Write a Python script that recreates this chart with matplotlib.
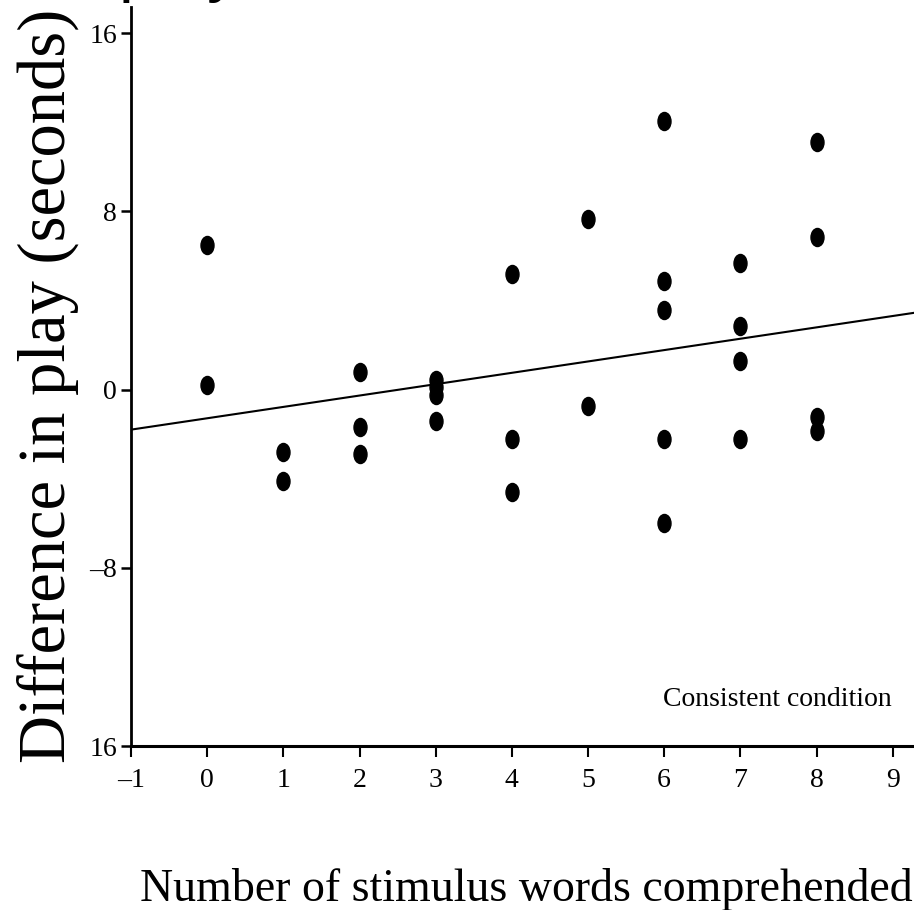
import matplotlib.pyplot as plt
import numpy as np
from matplotlib.markers import MarkerStyle
from matplotlib.transforms import Affine2D

# words comprehended vs. difference in play time (s)
words = [0, 0,
         1, 1,
         2, 2, 2,
         3, 3, 3, 3,
         4, 4, 4,
         5, 5,
         6, 6, 6, 6, 6,
         7, 7, 7, 7,
         8, 8, 8, 8]
diff = [6.5, 0.2,
        -2.8, -4.1,
        0.8, -1.7, -2.9,
        0.45, 0.1, -0.25, -1.4,
        5.2, -2.2, -4.6,
        7.65, -0.75,
        12.05, 4.85, 3.55, -2.2, -6.0,
        5.7, 2.85, 1.3, -2.2,
        11.1, 6.85, -1.25, -1.85]

# fitted line
fit_slope = 0.51
fit_intercept = -1.29

xticks = [-1, 0, 1, 2, 3, 4, 5, 6, 7, 8, 9]
xticklabels = ['\u20131', '0', '1', '2', '3', '4', '5', '6', '7', '8', '9']
yticks = [16, 8, 0, -8, -16]
yticklabels = ['16', '8', '0', '\u20138', '16']

serif = 'Liberation Serif'

fig = plt.figure(figsize=(9.14, 9.10), dpi=100)
ax = fig.add_axes([131 / 914, 164 / 910, 1 - 131 / 914, (746 - 7) / 910])

# tall oval dots
dot = MarkerStyle('o', transform=Affine2D().scale(0.72, 1.0))
ax.plot(words, diff, linestyle='none', marker=dot, markersize=13,
        color='black', zorder=3)

xs = np.array([-1, 9.3])
ax.plot(xs, fit_intercept + fit_slope * xs, color='black', lw=1.5)

ax.set_xlim(-1, 9.28)
ax.set_ylim(-16, 17.17)

for side in ['top', 'right']:
    ax.spines[side].set_visible(False)
ax.spines['left'].set_linewidth(2)
ax.spines['bottom'].set_linewidth(2.2)

ax.set_xticks(xticks)
ax.set_xticklabels(xticklabels, fontfamily=serif, fontsize=20)
ax.set_yticks(yticks)
ax.set_yticklabels(yticklabels, fontfamily=serif, fontsize=20)
ax.tick_params(axis='x', direction='out', length=8, width=1.5, pad=8)
ax.tick_params(axis='y', direction='out', length=7, width=1.8, pad=3)

ax.text(8.99, -14.2, 'Consistent condition', ha='right',
        va='baseline', fontfamily=serif, fontsize=20)

fig.text(65 / 914, 1 - 386 / 910, 'Difference in play (seconds)',
         rotation=90, rotation_mode='anchor', ha='center', va='baseline',
         fontfamily=serif, fontsize=48)
fig.text(526 / 914, 1 - 901 / 910, 'Number of stimulus words comprehended',
         ha='center', va='baseline', fontfamily=serif, fontsize=33)
# title line running off the top edge
fig.text(119 / 914, 1 + 11 / 910, 'play', ha='left', va='baseline',
         fontfamily='Liberation Sans', fontsize=48)

fig.savefig('out.png', dpi=100)
